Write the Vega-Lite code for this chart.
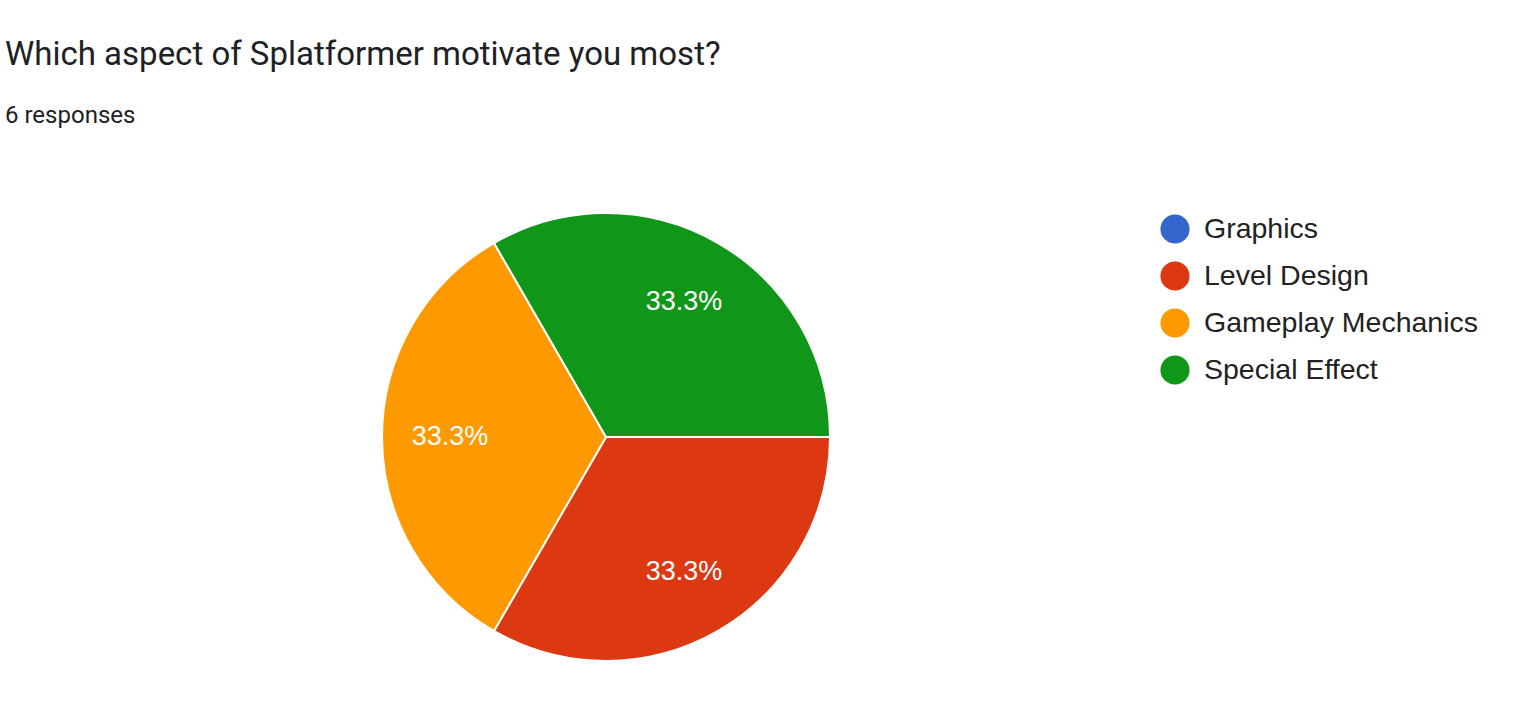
{
  "$schema": "https://vega.github.io/schema/vega-lite/v6.json",
  "width": 1527,
  "height": 721,
  "padding": 0,
  "autosize": "none",
  "background": "white",
  "title": {
    "text": "Which aspect of Splatformer motivate you most?",
    "subtitle": "6 responses",
    "anchor": "start",
    "frame": "group",
    "orient": "top",
    "baseline": "top",
    "offset": -128,
    "dx": 5,
    "font": "Roboto",
    "fontSize": 33,
    "fontWeight": "normal",
    "color": "#202124",
    "subtitleFont": "Roboto",
    "subtitleFontSize": 24,
    "subtitleColor": "#202124",
    "subtitlePadding": 32
  },
  "data": {
    "values": [
      {"option": "Graphics", "count": 0, "pct": 0},
      {"option": "Level Design", "count": 2, "pct": 0.3333},
      {"option": "Gameplay Mechanics", "count": 2, "pct": 0.3333},
      {"option": "Special Effect", "count": 2, "pct": 0.3333}
    ]
  },
  "encoding": {
    "theta": {"field": "count", "type": "quantitative", "stack": true, "scale": {"range": [1.5708, 7.854]}},
    "order": {"field": "order", "type": "quantitative"},
    "color": {
      "field": "option",
      "type": "nominal",
      "sort": ["Graphics", "Level Design", "Gameplay Mechanics", "Special Effect"],
      "scale": {
        "domain": ["Graphics", "Level Design", "Gameplay Mechanics", "Special Effect"],
        "range": ["#3366cc", "#dc3912", "#ff9900", "#109618"]
      },
      "legend": {
        "title": null,
        "orient": "none",
        "legendX": 1160,
        "legendY": 214,
        "symbolType": "circle",
        "symbolSize": 850,
        "symbolStrokeWidth": 0,
        "labelFont": "Liberation Sans",
        "labelFontSize": 28.5,
        "labelColor": "#222222",
        "labelOffset": 14,
        "rowPadding": 17,
        "labelLimit": 400
      }
    }
  },
  "transform": [
    {"calculate": "indexof(['Graphics','Level Design','Gameplay Mechanics','Special Effect'], datum.option)", "as": "order"}
  ],
  "layer": [
    {
      "mark": {"type": "arc", "x": 606, "y": 437, "outerRadius": 224, "stroke": "white", "strokeWidth": 2}
    },
    {
      "transform": [{"filter": "datum.count > 0"}],
      "mark": {"type": "text", "x": 606, "y": 437, "radius": 156, "font": "Liberation Sans", "fontSize": 27, "fill": "white"},
      "encoding": {
        "text": {"field": "pct", "type": "quantitative", "format": ".1%"},
        "color": {"value": "white"}
      }
    }
  ]
}
